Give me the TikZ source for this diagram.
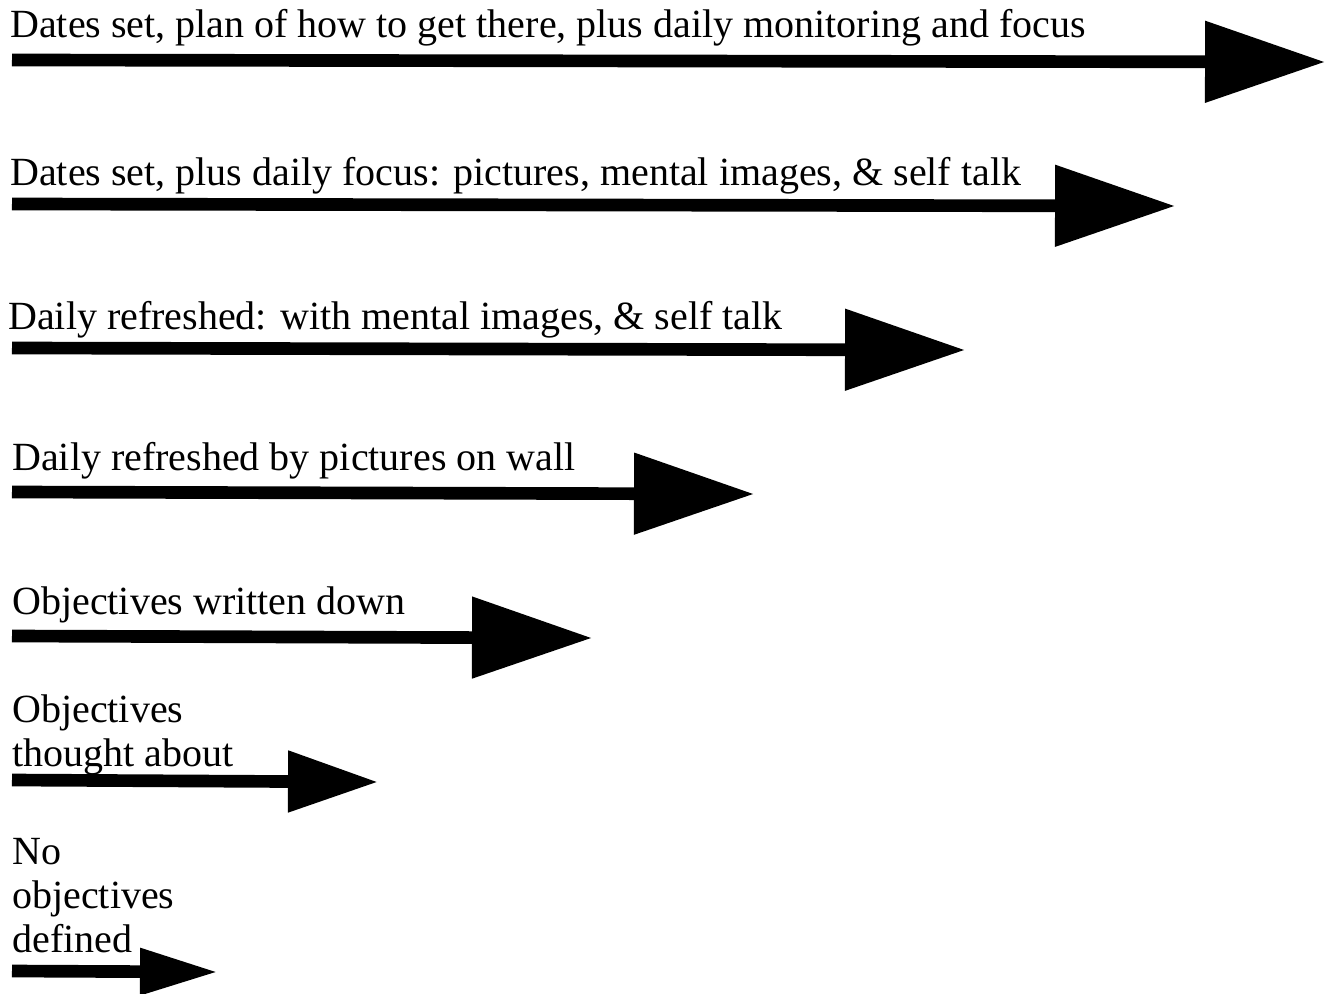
\documentclass[tikz,border=0pt]{standalone}
\usepackage{fontspec}
\setmainfont{Liberation Serif}
\usepackage{tikz}
\usetikzlibrary{arrows.meta, positioning}

\begin{document}
\begin{tikzpicture}[
    x=0.75pt, y=-0.75pt,
    every node/.style={font=\fontsize{30}{33}\selectfont, inner sep=0pt},
    lbl/.style={anchor=base west, align=left},
    bar/.style={line width=9.5pt, -{Triangle[length=90pt, width=59pt]}},
    midbar/.style={line width=9.5pt, -{Triangle[length=67.5pt, width=44pt]}},
    tinybar/.style={line width=9.5pt, -{Triangle[length=58.5pt, width=33pt]}}
]
\useasboundingbox (0,0) rectangle (1326,994);

% Start and end points of the bars
\coordinate (s1) at (12,60);   \coordinate (e1) at (1325,62);
\coordinate (s2) at (12,204);  \coordinate (e2) at (1175,206);
\coordinate (s3) at (12,348);  \coordinate (e3) at (965,350);
\coordinate (s4) at (12,492);  \coordinate (e4) at (754,494);
\coordinate (s5) at (12,636);  \coordinate (e5) at (592,638);
\coordinate (s6) at (12,780);  \coordinate (e6) at (378,782);
\coordinate (s7) at (12,971);  \coordinate (e7) at (218,972);

% Labels (base = last line)
\node[lbl] (t1) at (10,38) {Dates set, plan of how to get there, plus daily monitoring and focus};
\node[lbl] (t2) at (10,186) {Dates set, plus daily focus: pictures, mental images, \& self talk};
\node[lbl] (t3) at (8,330) {Daily refreshed: with mental images, \& self talk};
\node[lbl] (t4) at (12,470) {Daily refreshed by pictures on wall};
\node[lbl] (t5) at (12,614) {Objectives written down};
\node[lbl] (t6) at (12,766) {Objectives\\thought about};
\node[lbl] (t7) at (12,952) {No\\objectives\\defined};

% Bars
\draw[bar] (s1) -- (e1);
\draw[bar] (s2) -- (e2);
\draw[bar] (s3) -- (e3);
\draw[bar] (s4) -- (e4);
\draw[bar] (s5) -- (e5);
\draw[midbar] (s6) -- (e6);
\draw[tinybar] (s7) -- (e7);

\end{tikzpicture}
\end{document}
